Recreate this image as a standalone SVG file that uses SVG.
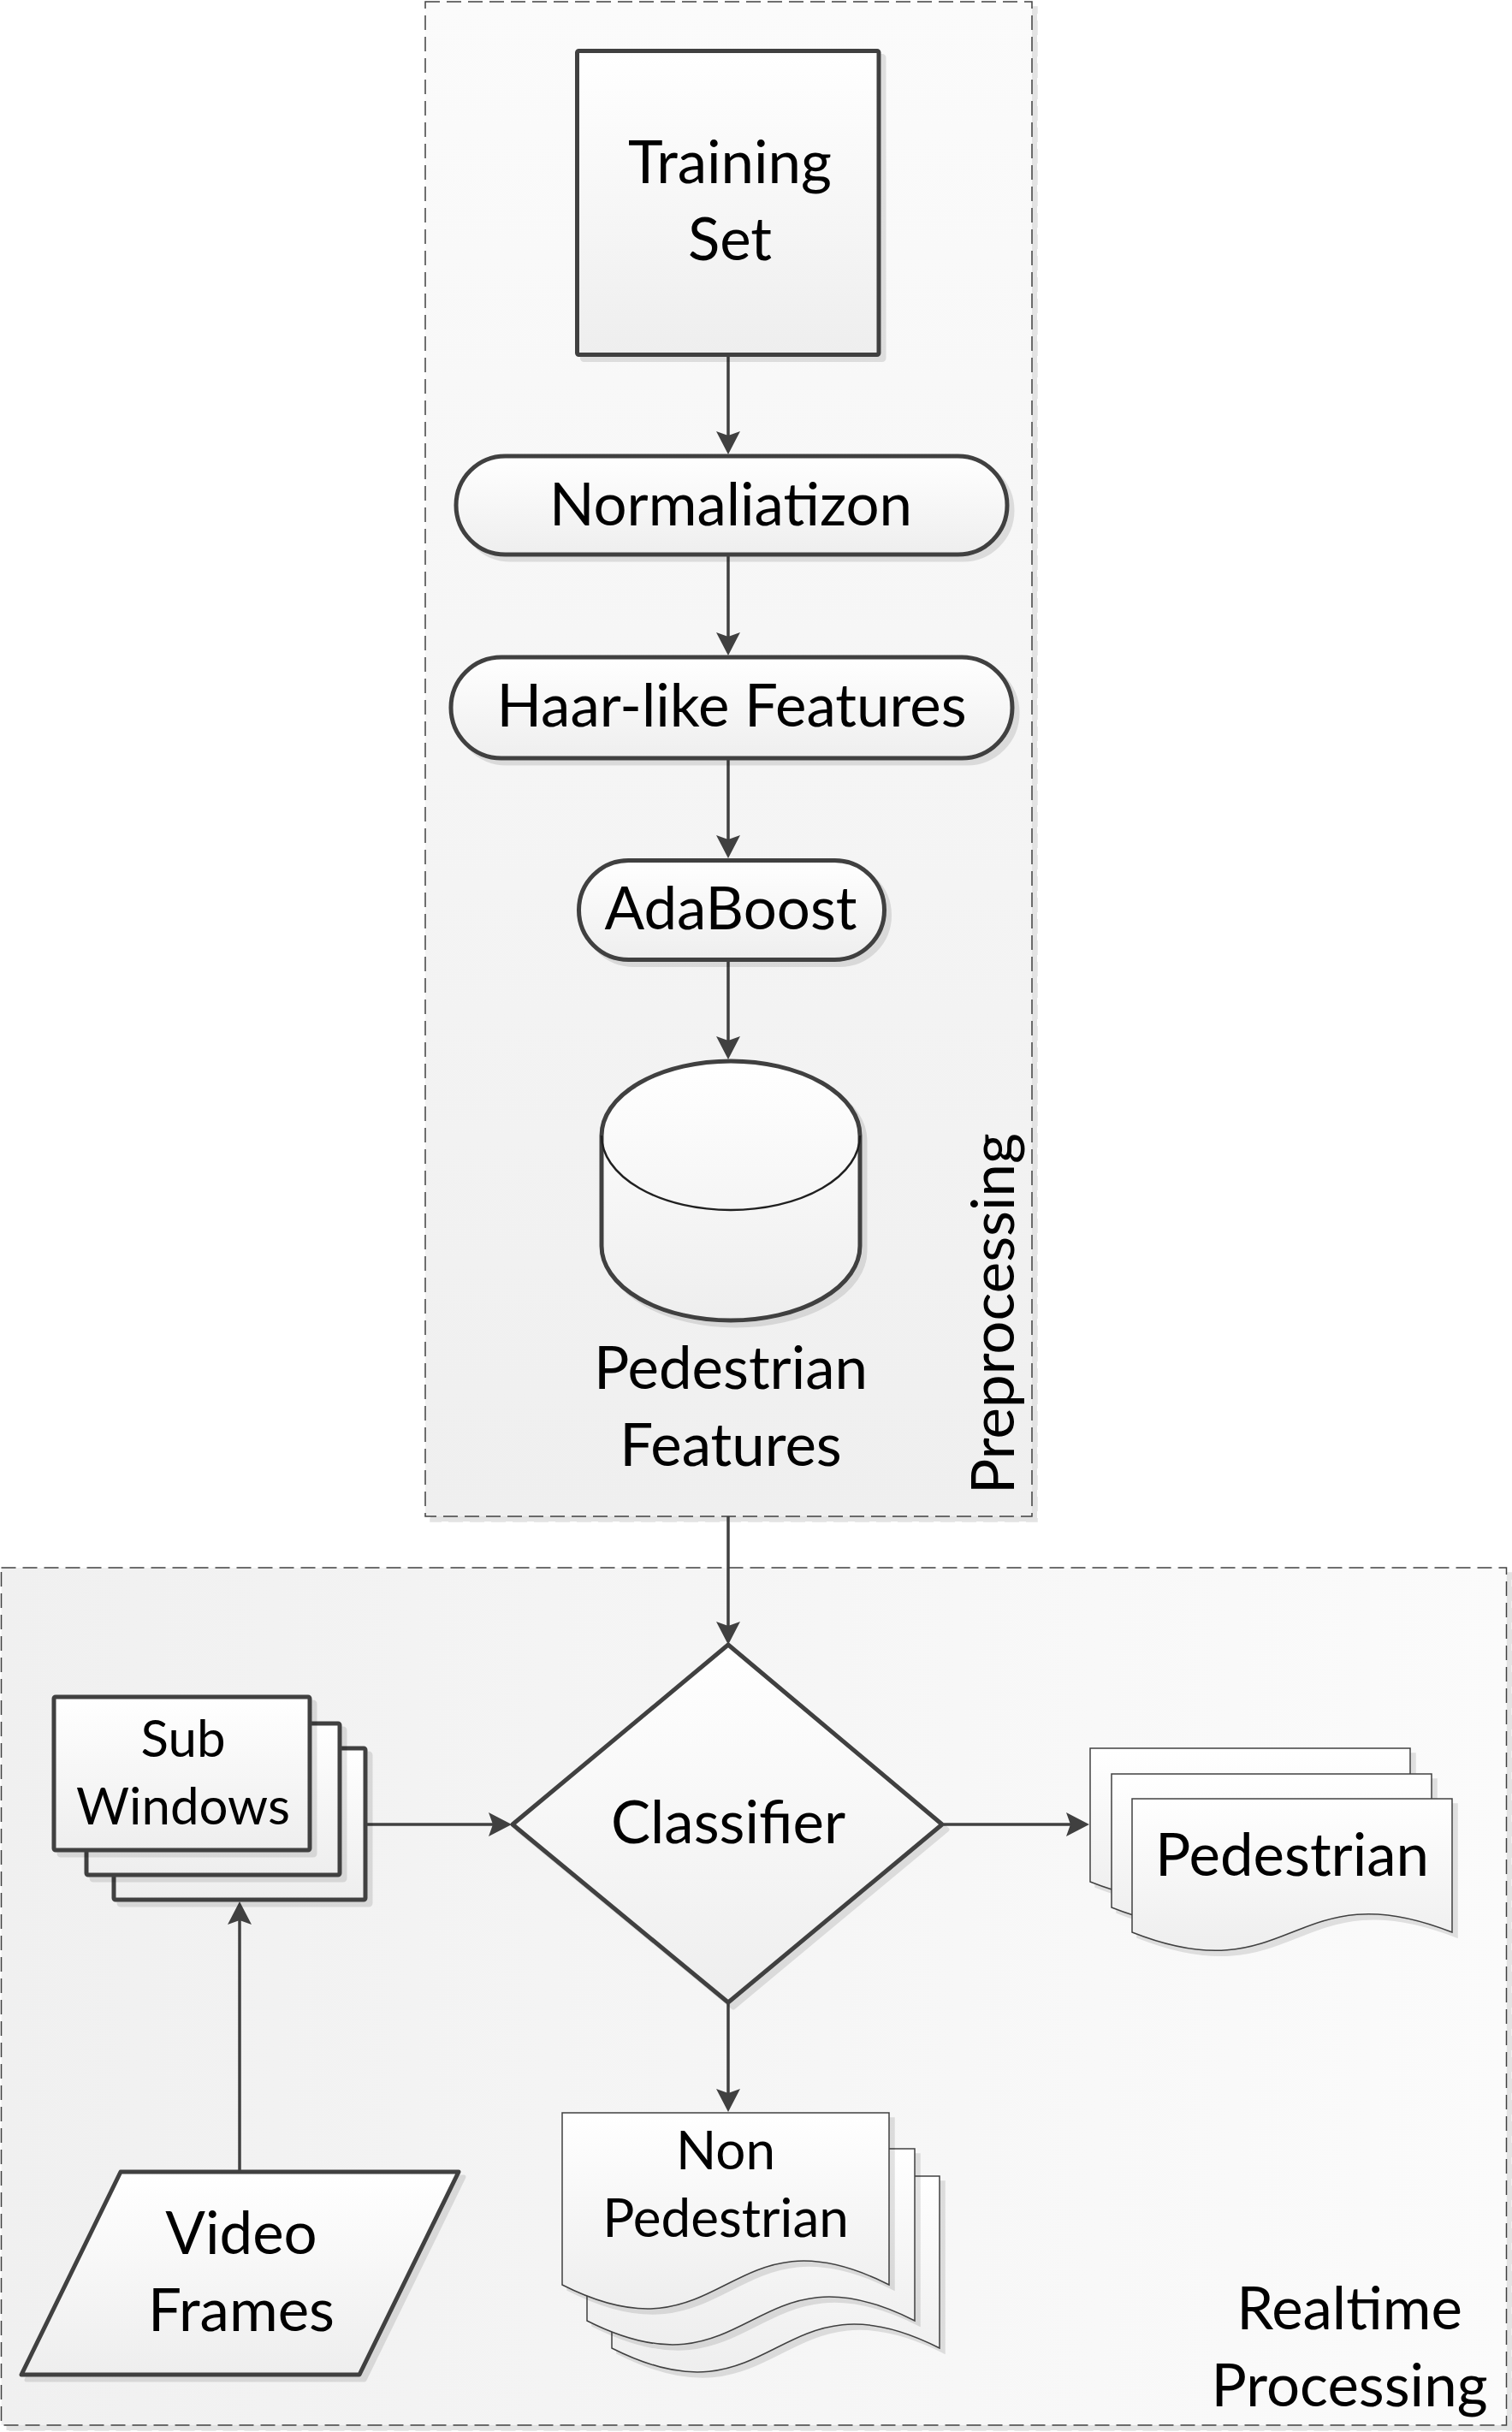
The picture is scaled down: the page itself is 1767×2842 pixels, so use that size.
<svg xmlns="http://www.w3.org/2000/svg" width="1767" height="2842" viewBox="0 0 1767 2842">
<defs>
<style>
.t{font-family:Lato,"Open Sans","Liberation Sans",sans-serif;font-size:69px;fill:#000;text-anchor:middle}
.ts{font-size:60px}
.tm{font-size:62px}
.thick{fill:url(#sg);stroke:#404040;stroke-width:5;stroke-linejoin:round}
.doc{fill:url(#sg);stroke:#404040;stroke-width:1.5}
.cont{stroke:#404040;stroke-width:1.5;stroke-dasharray:17 8}
.con{fill:none;stroke:#404040;stroke-width:3.5}
</style>
<linearGradient id="sg" x1="0" y1="0" x2="0" y2="1"><stop offset="0" stop-color="#ffffff"/><stop offset="1" stop-color="#eeeeee"/></linearGradient>
<linearGradient id="pg" x1="0" y1="0" x2="0" y2="1"><stop offset="0" stop-color="#fbfbfb"/><stop offset="1" stop-color="#efefef"/></linearGradient>
<linearGradient id="rg" x1="0" y1="0" x2="1" y2="0"><stop offset="0" stop-color="#f0f0f0"/><stop offset="1" stop-color="#fbfbfb"/></linearGradient>
<filter id="sh" x="-10%" y="-10%" width="130%" height="130%">
<feOffset in="SourceAlpha" dx="6" dy="6" result="o"/>
<feFlood flood-color="#000" flood-opacity="0.11"/>
<feComposite in2="o" operator="in"/>
<feMerge><feMergeNode/><feMergeNode in="SourceGraphic"/></feMerge>
</filter>
<marker id="ah" markerUnits="userSpaceOnUse" markerWidth="30" markerHeight="30" refX="22" refY="14" orient="auto">
<path d="M0,0 L27,14 L0,28 L5,14 Z" fill="#404040"/>
</marker>
</defs>

<g id="preprocessing">
<rect x="497" y="2" width="709" height="1770" fill="url(#pg)" class="cont" filter="url(#sh)"/>
<text class="t" transform="translate(1185,1535) rotate(-90)">Preprocessing</text>
</g>

<g id="realtime">
<rect x="1.5" y="1832" width="1759" height="1002" fill="url(#rg)" class="cont" filter="url(#sh)"/>
<text class="t" x="1577" y="2722">Realtime</text>
<text class="t" x="1577" y="2812">Processing</text>
</g>

<g id="connectors">
<line class="con" x1="851" y1="417" x2="851" y2="526" marker-end="url(#ah)"/>
<line class="con" x1="851" y1="650" x2="851" y2="761" marker-end="url(#ah)"/>
<line class="con" x1="851" y1="888" x2="851" y2="998" marker-end="url(#ah)"/>
<line class="con" x1="851" y1="1124" x2="851" y2="1233" marker-end="url(#ah)"/>
<line class="con" x1="851" y1="1772" x2="851" y2="1917" marker-end="url(#ah)"/>
<line class="con" x1="429" y1="2132" x2="593" y2="2132" marker-end="url(#ah)"/>
<line class="con" x1="1103" y1="2132" x2="1268" y2="2132" marker-end="url(#ah)"/>
<line class="con" x1="851" y1="2342" x2="851" y2="2463" marker-end="url(#ah)"/>
<line class="con" x1="280" y1="2538" x2="280" y2="2227" marker-end="url(#ah)"/>
</g>

<g id="training-set">
<rect class="thick" x="674.5" y="59.5" width="352.5" height="355" rx="2" filter="url(#sh)"/>
<text class="t" x="853" y="214">Training</text>
<text class="t" x="853" y="304">Set</text>
</g>

<g id="normalization">
<rect class="thick" x="533" y="533" width="644" height="115" rx="57.5" filter="url(#sh)"/>
<text class="t" x="854" y="614">Normaliatizon</text>
</g>

<g id="haar">
<rect class="thick" x="527" y="768" width="656" height="118" rx="59" filter="url(#sh)"/>
<text class="t" x="855" y="849">Haar-like Features</text>
</g>

<g id="adaboost">
<rect class="thick" x="676.5" y="1005.5" width="357" height="116" rx="58" filter="url(#sh)"/>
<text class="t" x="854" y="1086">AdaBoost</text>
</g>

<g id="pedestrian-features">
<path class="thick" d="M703,1327 A151,87 0 0 1 1005,1327 L1005,1456 A151,87 0 0 1 703,1456 Z" filter="url(#sh)"/>
<path d="M703,1327 A151,87 0 0 0 1005,1327" fill="none" stroke="#202020" stroke-width="2.5"/>
<text class="t" x="854" y="1623">Pedestrian</text>
<text class="t" x="854" y="1713">Features</text>
</g>

<g id="classifier">
<path class="thick" d="M851,1922 L1101,2132 L851,2340 L599,2132 Z" filter="url(#sh)"/>
<text class="t" x="851" y="2154">Classifier</text>
</g>

<g id="sub-windows">
<rect class="thick" x="133" y="2043" width="294" height="177" rx="2" filter="url(#sh)"/>
<rect class="thick" x="101" y="2014" width="296" height="177" rx="2" filter="url(#sh)"/>
<rect class="thick" x="63" y="1983" width="299" height="179" rx="2" filter="url(#sh)"/>
<text class="t ts" x="214" y="2053">Sub</text>
<text class="t ts" x="214" y="2132">Windows</text>
</g>

<g id="video-frames">
<path class="thick" d="M141,2538 L536,2538 L420,2775 L25,2775 Z" filter="url(#sh)"/>
<text class="t" x="282" y="2634">Video</text>
<text class="t" x="282" y="2724">Frames</text>
</g>

<g id="pedestrian">
<path class="doc" d="M1274,2043 H1648 V2199 C1461,2125 1461,2273 1274,2199 Z" filter="url(#sh)"/>
<path class="doc" d="M1299,2073 H1673 V2229 C1486,2155 1486,2303 1299,2229 Z" filter="url(#sh)"/>
<path class="doc" d="M1323,2102 H1697 V2258 C1510,2184 1510,2332 1323,2258 Z" filter="url(#sh)"/>
<text class="t" x="1510" y="2192">Pedestrian</text>
</g>

<g id="non-pedestrian">
<path class="doc" d="M715,2543 H1098 V2744 C906.5,2647 906.5,2841 715,2744 Z" filter="url(#sh)"/>
<path class="doc" d="M686,2511 H1069 V2712 C877.5,2615 877.5,2809 686,2712 Z" filter="url(#sh)"/>
<path class="doc" d="M657,2469 H1039 V2670 C848,2573 848,2767 657,2670 Z" filter="url(#sh)"/>
<text class="t tm" x="848" y="2535">Non</text>
<text class="t tm" x="848" y="2614">Pedestrian</text>
</g>
</svg>
